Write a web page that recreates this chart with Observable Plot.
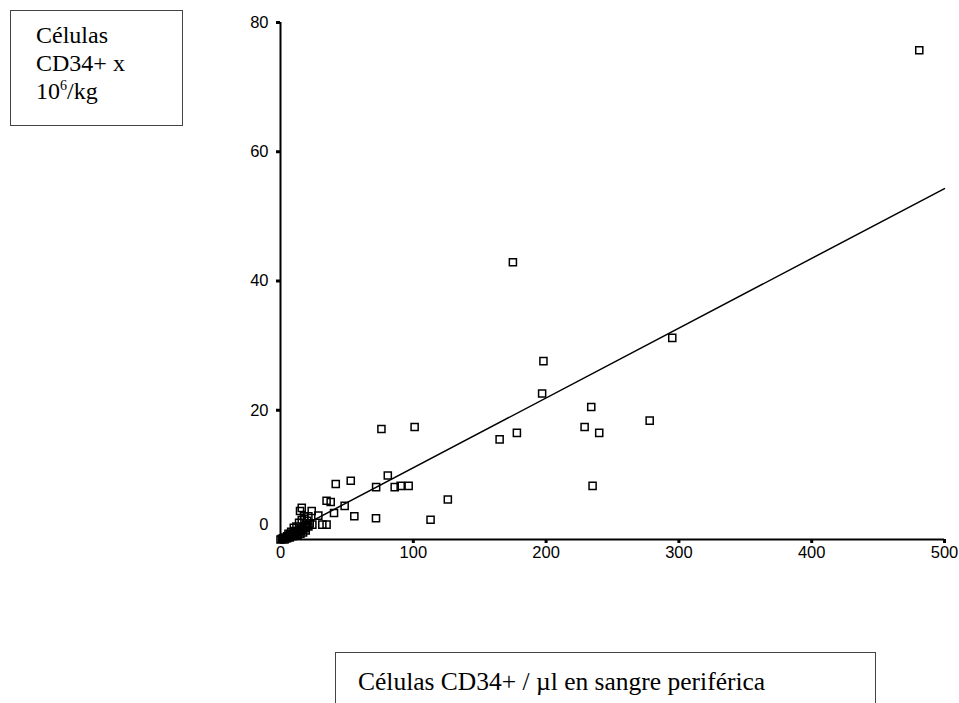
<!DOCTYPE html>
<html><head><meta charset="utf-8">
<script src="https://cdn.jsdelivr.net/npm/d3@7"></script>
<script src="https://cdn.jsdelivr.net/npm/@observablehq/plot@0.6"></script>
<style>
body{margin:0;background:#fff;width:959px;height:703px;overflow:hidden;position:relative;font-family:"Liberation Serif","Times New Roman",serif;}
#chart{position:absolute;left:0;top:0}
.box{position:absolute;border:1px solid #444;background:#fff;box-sizing:border-box;font-size:24px;color:#000}
#ylab{left:10px;top:10px;width:173px;height:116px;padding:10px 0 0 25px;line-height:28px}
#ylab sup{font-size:14px;line-height:0;vertical-align:9px}
#xlab{left:335px;top:652px;width:541px;height:70px;padding:14px 0 0 22px;white-space:nowrap;font-size:25.5px}
</style></head>
<body>
<div id="chart"></div>
<div class="box" id="ylab">Células<br>CD34+ x<br>10<sup>6</sup>/kg</div>
<div class="box" id="xlab">Células CD34+ / µl en sangre periférica</div>
<script>
// CD34+ cells per µl in peripheral blood
const cellsPerUl = [481,175,295,198,197,234,229,240,278,165,178,235,76,101,126,113,80.8,72,86,90.5,96.5,52.9,41.6,34.7,37.8,48.3,40.3,55.6,71.9,16,14.7,23.5,28.5,17.7,21,31.5,34.7,
  0,1,2,3,4,5,6,7,8,9,10,11,12,13,14,15,16,17,18,19,20,21,22,24,12,14,16,18,20,10,8,6,3,5,7,9,11,13,15,17,19];
// CD34+ cells x 10^6/kg
const cellsPerKg = [75.7,42.9,31.2,27.6,22.6,20.5,17.4,16.5,18.4,15.5,16.5,8.3,17.1,17.4,6.2,3.05,9.9,8.1,8.1,8.3,8.3,9.1,8.6,6.0,5.8,5.2,4.1,3.6,3.3,4.9,4.4,4.4,3.7,3.6,3.6,2.3,2.3,
  0,0.1,0.2,0.3,0.2,0.5,0.4,0.7,0.6,0.9,1.0,0.8,1.2,1.1,1.5,1.3,1.7,1.5,2.0,1.8,2.2,2.0,2.5,2.3,2.0,2.6,3.0,3.2,2.9,1.8,1.2,0.9,0.0,0.2,0.3,0.5,1.3,0.7,0.9,1.1,1.4];
// regression line end points
const fitX = [0, 500];
const fitY = [0.3, 54.3];
const xTicks = [0,100,200,300,400,500];
const yTicks = [20,40,60,80];
const yZeroLabel = [0];

const points = cellsPerUl.map((x,i)=>({x, y: cellsPerKg[i]}));
const fit = fitX.map((x,i)=>({x, y: fitY[i]}));

const plot = Plot.plot({
  width: 959, height: 580,
  marginLeft: 280, marginRight: 15, marginTop: 22, marginBottom: 41,
  x: {domain:[0,500]},
  y: {domain:[0,80]},
  style: {fontFamily:"'Liberation Sans', Arial, sans-serif", fontSize:"16.5px", color:"#000", background:"white", overflow:"visible"},
  marks: [
    Plot.axisY({ticks: yTicks, tickSize:4, tickPadding:8, strokeWidth:3, label:null, fontSize:16.5}),
    Plot.axisX({ticks: xTicks, tickSize:4, tickPadding:3, strokeWidth:3, label:null, fontSize:16.5}),
    Plot.text(yZeroLabel, {x: ()=>0, y: d=>d, text: d=>String(d), textAnchor:"end", dx:-12, dy:-15, fontSize:16.5}),
    Plot.ruleX([0], {stroke:"black", strokeWidth:2}),
    Plot.ruleY([0], {stroke:"black", strokeWidth:2}),
    Plot.line(fit, {x:"x", y:"y", stroke:"black", strokeWidth:1.5}),
    Plot.dot(points, {x:"x", y:"y", symbol:"square", r:4, stroke:"black", strokeWidth:1.5, fill:"none"})
  ]
});
document.getElementById("chart").append(plot);
</script>
</body></html>
